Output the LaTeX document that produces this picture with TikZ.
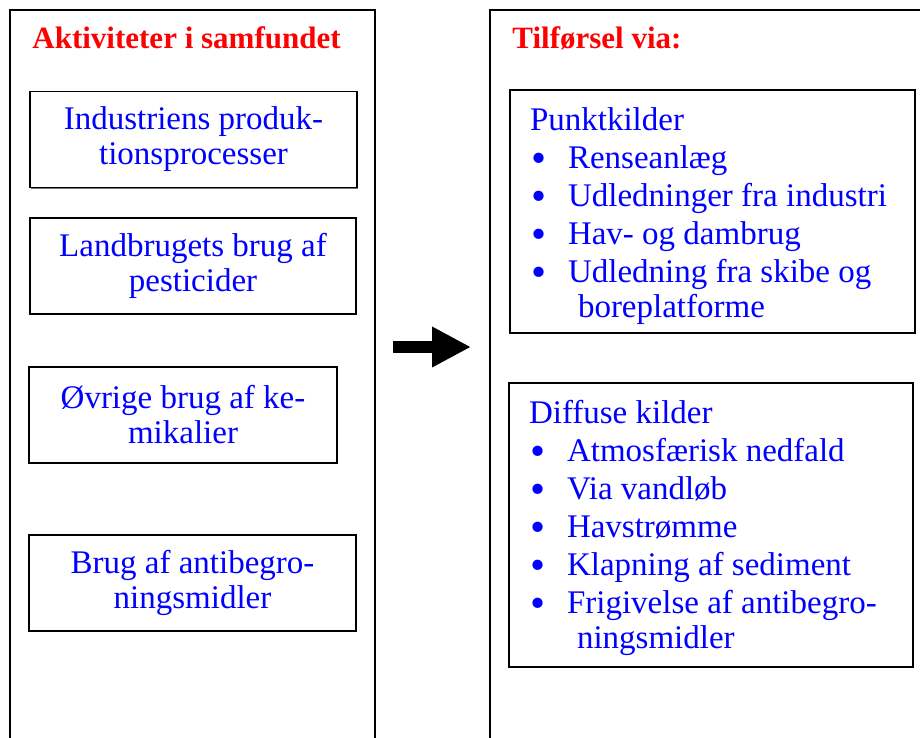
\documentclass[tikz,border=0pt]{standalone}
\usepackage{fontspec}
\setmainfont{Liberation Serif}
\usepackage{graphicx}
\usepackage{tikz}
\usetikzlibrary{arrows.meta}
\usetikzlibrary{shadows}
\definecolor{kildeblue}{RGB}{0,0,255}
\definecolor{titlered}{RGB}{255,0,0}
\tikzset{kasse/.style={draw, line width=0.75pt, text=kildeblue, align=center,
    font=\fontsize{16.5}{17.5}\selectfont,
    drop shadow={shadow xshift=0.6pt, shadow yshift=-0.6pt, fill=black!55, opacity=1}, fill=white}}
\tikzset{liste/.style={kasse, align=flush left, inner xsep=10pt}}
\tikzset{overskrift/.style={anchor=base west, inner sep=0pt, text=titlered, font=\fontsize{15.5}{16}\selectfont\bfseries}}
\tikzset{kolonne/.style={draw, line width=1pt}}
\newcommand{\punkt}{\makebox[19pt][l]{\hspace{0.5pt}\raisebox{-1.9pt}[0pt][0pt]{\scalebox{1.3}{\textbullet}}}}
\newcommand{\fort}{\hspace*{24pt}}

\begin{document}
\begin{tikzpicture}[x=0.5pt,y=-0.5pt]
  \useasboundingbox (0,0) rectangle (920,738);
  % the two columns, open at the bottom
  \draw[kolonne] (10,780) -- (10,10) -- (375,10) -- (375,780);
  \draw[kolonne] (490,780) -- (490,10) -- (930,10);
  \node[overskrift] (aktiv) at (32,49) {Aktiviteter i samfundet};
  \node[overskrift] (tilf) at (512,49) {Tilførsel via:};

  % activities
  \foreach \cx/\cy/\w/\lab/\txt in {
    193.5/139.5/163.5/ind/{Industriens produk-\\tionsprocesser},
    193/266/163/land/{Landbrugets brug af\\pesticider},
    183/415/154/kemi/{Øvrige brug af ke-\\mikalier},
    192.5/583/163.5/anti/{Brug af antibegro-\\ningsmidler}%
  } {
    \node[kasse, minimum width=\w pt, minimum height=48pt] (\lab) at (\cx,\cy) {\txt};
  }

  % sources
  \node[liste, minimum width=202.5pt, minimum height=121.5pt, text width=182.5pt] (punkt) at (712.5,211.5) {
    \rule{0pt}{16pt}Punktkilder\\[1.5pt]
    \punkt Renseanlæg\\[1.5pt]
    \punkt Udledninger fra industri\\[1.5pt]
    \punkt Hav- og dambrug\\[1.5pt]
    \punkt Udledning fra skibe og\\
    \fort boreplatforme};
  \node[liste, minimum width=202pt, minimum height=142pt, text width=182pt] (diffus) at (711,525) {
    \rule{0pt}{15pt}Diffuse kilder\\[1.5pt]
    \punkt Atmosfærisk nedfald\\[1.5pt]
    \punkt Via vandløb\\[1.5pt]
    \punkt Havstrømme\\[1.5pt]
    \punkt Klapning af sediment\\[1.5pt]
    \punkt Frigivelse af antibegro-\\
    \fort ningsmidler};

  \coordinate (pilstart) at (393,347);
  \coordinate (pilslut) at (471,347);
  \draw[line width=6pt, -{Triangle[length=19.5pt, width=19pt]}] (pilstart) -- (pilslut);
\end{tikzpicture}
\end{document}
